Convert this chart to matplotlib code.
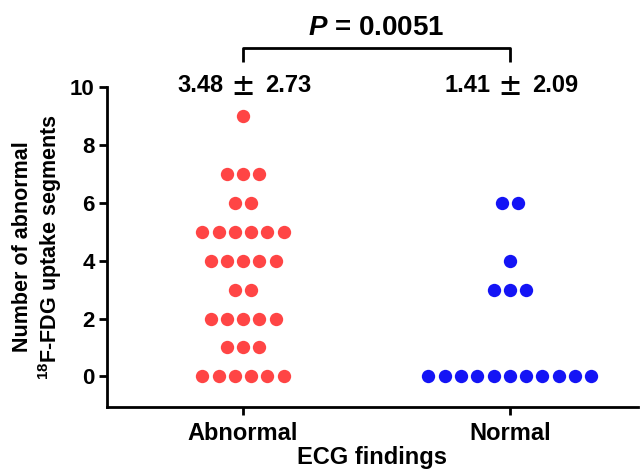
import numpy as np
import matplotlib
matplotlib.use("Agg")
import matplotlib.pyplot as plt

plt.rcParams['font.family'] = ['Liberation Sans', 'DejaVu Sans']
plt.rcParams['font.weight'] = 'bold'
plt.rcParams['mathtext.fontset'] = 'custom'
plt.rcParams['mathtext.rm'] = 'Liberation Sans:bold'
plt.rcParams['mathtext.bf'] = 'Liberation Sans:bold'
plt.rcParams['mathtext.it'] = 'Liberation Sans:bold:italic'

categories = ["Abnormal", "Normal"]
# value -> number of patients
abnormal_values = [9, 7, 6, 5, 4, 3, 2, 1, 0]
abnormal_counts = [1, 3, 2, 6, 5, 2, 5, 3, 6]
normal_values = [6, 4, 3, 0]
normal_counts = [2, 1, 3, 11]
means = ["3.48", "1.41"]
sds = ["2.73", "2.09"]
p_label = "$\\it{P}$ = 0.0051"
yticks = [0, 2, 4, 6, 8, 10]
colors = ["#FF4545", "#1414F5"]

fig = plt.figure(figsize=(6.41, 4.73), dpi=100)
ax = fig.add_axes([0.167, 0.14, 0.828, 0.676])

spacing = 0.061
groups = [(abnormal_values, abnormal_counts), (normal_values, normal_counts)]
for i, (vals, cnts) in enumerate(groups):
    xs, ys = [], []
    for v, n in zip(vals, cnts):
        offs = (np.arange(n) - (n - 1) / 2) * spacing
        xs.extend(i + offs)
        ys.extend([v] * n)
    ax.plot(xs, ys, 'o', color=colors[i], markersize=9.6, markeredgewidth=0,
            clip_on=False)

ax.set_xlim(-0.51, 1.48)
ax.set_ylim(-1.05, 10)
ax.set_yticks(yticks)
ax.set_xticks([0, 1])
ax.set_xticklabels(categories, fontsize=17, fontweight='bold')
for lab in ax.get_yticklabels():
    lab.set_fontsize(16)
    lab.set_fontweight('bold')

for s in ['top', 'right']:
    ax.spines[s].set_visible(False)
for s in ['left', 'bottom']:
    ax.spines[s].set_linewidth(2.0)
ax.tick_params(axis='both', width=2.0, length=6, direction='out', pad=3)
ax.tick_params(axis='x', pad=5)

ax.set_xlabel("ECG findings", fontsize=17, fontweight='bold', labelpad=1)
ax.set_ylabel("Number of abnormal\n$^{18}$F-FDG uptake segments", fontsize=15.5,
              fontweight='bold', labelpad=4, linespacing=1.15)

# mean +/- sd annotations
for i in range(2):
    ax.annotate("\u00b1", xy=(i, 10.07), xytext=(0, -2.5), textcoords='offset points',
                ha='center', va='center', fontsize=18, fontweight='bold',
                family=['Noto Sans CJK SC'], annotation_clip=False)
    ax.annotate(means[i], xy=(i, 10.07), xytext=(-14, 0), textcoords='offset points',
                ha='right', va='center', fontsize=17, fontweight='bold',
                annotation_clip=False)
    ax.annotate(sds[i], xy=(i, 10.07), xytext=(16, 0), textcoords='offset points',
                ha='left', va='center', fontsize=17, fontweight='bold',
                annotation_clip=False)

# bracket
yb_top = 11.34
yb_bot = 10.86
ax.plot([0, 0, 1, 1], [yb_bot, yb_top, yb_top, yb_bot], color='black', lw=2.0,
        clip_on=False, solid_capstyle='butt')
ax.text(0.5, 11.8, p_label, ha='center', va='baseline', fontsize=20,
        fontweight='bold', clip_on=False)

fig.savefig("out.png", dpi=100)
